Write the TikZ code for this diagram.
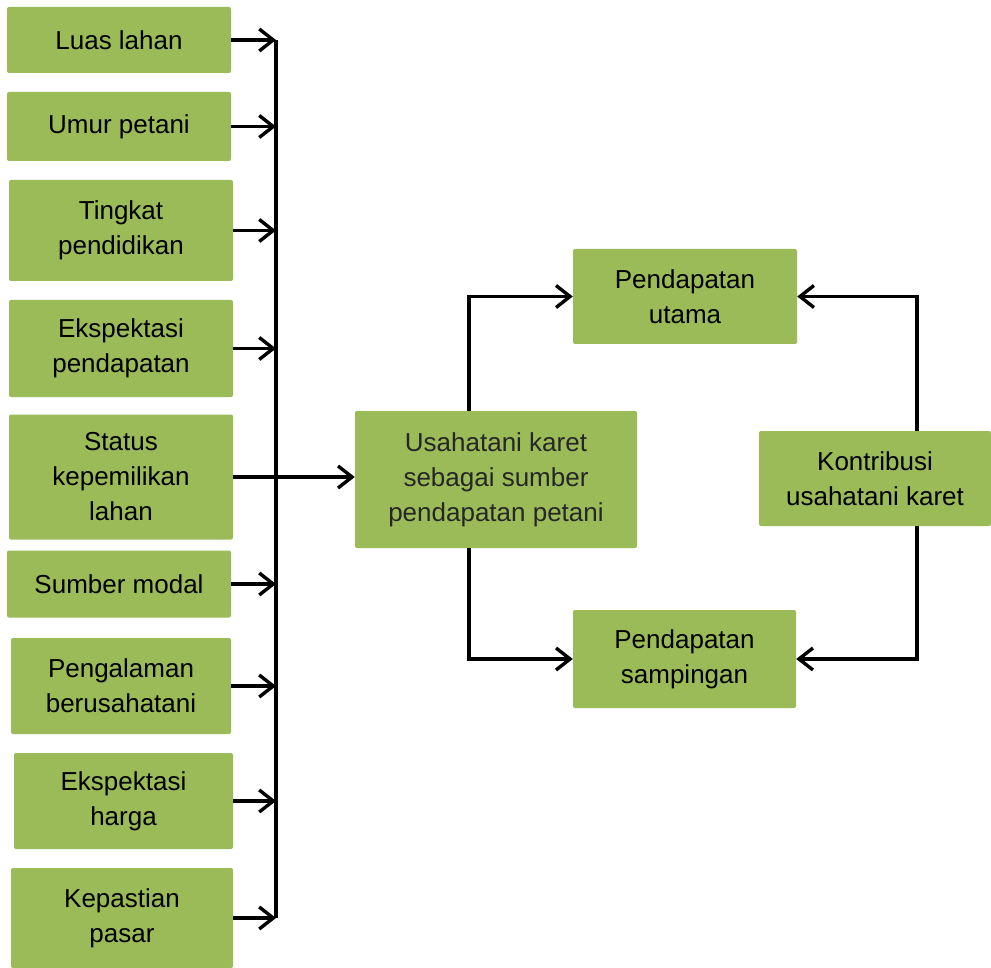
\documentclass[tikz,border=0pt]{standalone}
\usepackage{fontspec}
\setmainfont{Liberation Sans}
\usetikzlibrary{arrows.meta}
\definecolor{boxgreen}{HTML}{9BBB59}
\definecolor{darktext}{HTML}{262626}
\tikzset{
  box/.style={fill=boxgreen, draw=none, rounded corners=2pt, align=center,
    inner sep=0pt, font=\fontsize{26}{35}\selectfont, text=black},
  arr/.style={line width=3.4pt, -{Straight Barb[length=14pt,width=22pt,line width=3.4pt]}},
  ln/.style={line width=3.4pt}
}
\begin{document}
\begin{tikzpicture}[x=1pt,y=1pt]
\useasboundingbox (0,0) rectangle (991,-968);
% left factor boxes
\node[box, minimum width=224, minimum height=66] (b1) at (119,-40) {Luas lahan};
\node[box, minimum width=224, minimum height=69] (b2) at (119,-126.5) {Umur petani};
\node[box, minimum width=224, minimum height=101] (b3) at (121,-230.5) {Tingkat\\pendidikan};
\node[box, minimum width=224, minimum height=97] (b4) at (121,-348.5) {Ekspektasi\\pendapatan};
\node[box, minimum width=224, minimum height=125] (b5) at (121,-477) {Status\\kepemilikan\\lahan};
\node[box, minimum width=224, minimum height=67] (b6) at (119,-584) {Sumber modal};
\node[box, minimum width=220, minimum height=96] (b7) at (121,-686) {Pengalaman\\berusahatani};
\node[box, minimum width=219, minimum height=96] (b8) at (123.5,-801) {Ekspektasi\\harga};
\node[box, minimum width=222, minimum height=100] (b9) at (122,-918) {Kepastian\\pasar};
% right part
\node[box, minimum width=282, minimum height=137, text=darktext] (c) at (496,-479.5) {Usahatani karet\\sebagai sumber\\pendapatan petani};
\node[box, minimum width=224, minimum height=95] (u) at (685,-296.5) {Pendapatan\\utama};
\node[box, minimum width=223, minimum height=98] (s) at (684.5,-659) {Pendapatan\\sampingan};
\node[box, minimum width=232, minimum height=95] (k) at (875,-478.5) {Kontribusi\\usahatani karet};
% spine
\coordinate (spine) at (276,0);
\draw[ln] (b1.east -| spine) -- (b9.east -| spine);
\foreach \b in {b1,b2,b3,b4,b6,b7,b8,b9}{
  \draw[arr] (\b.east) -- (\b.east -| spine);
}
\draw[arr] (b5.east) -- (c.west |- b5.east);
% center to income boxes
\draw[arr] ([xshift=-27pt]c.north) |- (u.west);
\draw[arr] ([xshift=-27pt]c.south) |- (s.west);
% contribution to income boxes
\draw[arr] ([xshift=42pt]k.north) |- (u.east);
\draw[arr] ([xshift=42pt]k.south) |- (s.east);
\end{tikzpicture}
\end{document}
